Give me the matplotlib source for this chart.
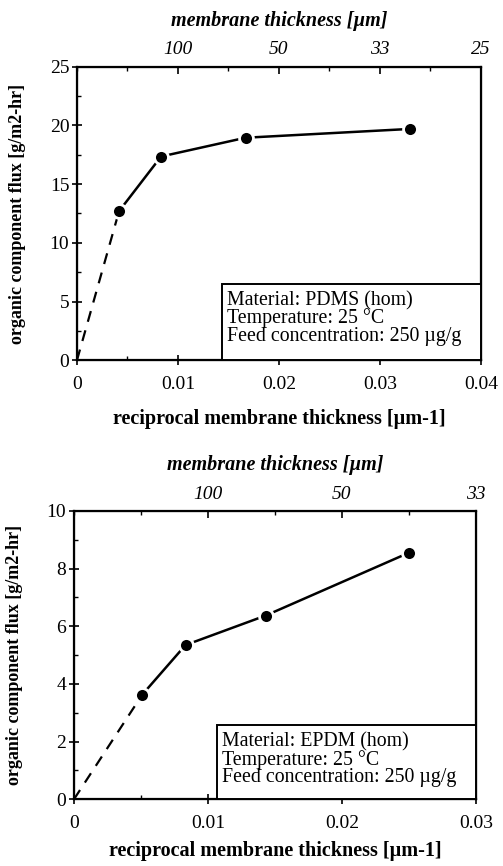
import matplotlib
matplotlib.use("Agg")
import matplotlib.pyplot as plt
import matplotlib.transforms as mtransforms
from matplotlib.patches import Rectangle
from matplotlib.ticker import MultipleLocator, FixedLocator

# PDMS (top panel)
pdms_x = [0.00417, 0.00833, 0.0167, 0.0330]
pdms_y = [12.7, 17.35, 18.95, 19.7]
# EPDM (bottom panel)
epdm_x = [0.0051, 0.00833, 0.0143, 0.0250]
epdm_y = [3.63, 5.35, 6.37, 8.55]

pdms_top_pos = [0.01, 0.02, 0.03, 0.04]
pdms_top_lab = ["100", "50", "33", "25"]
epdm_top_pos = [0.01, 0.02, 0.03]
epdm_top_lab = ["100", "50", "33"]

pdms_info = "Material: PDMS (hom)\nTemperature: 25 \u00b0C\nFeed concentration: 250 \u00b5g/g"
epdm_info = "Material: EPDM (hom)\nTemperature: 25 \u00b0C\nFeed concentration: 250 \u00b5g/g"

plt.rcParams["font.family"] = ["Liberation Serif", "DejaVu Serif"]

fig = plt.figure(figsize=(5.03, 8.66), dpi=100)


def panel(rect, xs, ys, xmax, ymax, ymaj, ymin, xticks_top, xlabels_top, info, box_x, box_top,
          xlabelpad=11):
    ax = fig.add_axes(rect)
    ax.set_xlim(0, xmax)
    ax.set_ylim(0, ymax)
    # dashed extrapolation to the origin
    ax.plot([0, xs[0]], [0, ys[0]], color="black", lw=1.6, ls=(0, (5, 4)), clip_on=False)
    ax.plot(xs, ys, color="black", lw=1.8)
    ax.plot(xs, ys, ls="none", marker="o", ms=10, mfc="black", mec="white", mew=2)

    ax.xaxis.set_major_locator(MultipleLocator(0.01))
    ax.xaxis.set_minor_locator(MultipleLocator(0.005))
    ax.yaxis.set_major_locator(MultipleLocator(ymaj))
    ax.yaxis.set_minor_locator(MultipleLocator(ymin))
    ax.xaxis.set_major_formatter(plt.FuncFormatter(lambda v, p: "0" if v == 0 else f"{v:g}"))
    ax.tick_params(which="major", direction="inout", length=7, width=1.2, labelsize=14,
                   top=False, right=False)
    ax.tick_params(axis="x", which="major", pad=8)
    ax.tick_params(axis="y", which="major", pad=2)
    ax.tick_params(which="minor", direction="in", length=3, width=1.0)
    for s in ax.spines.values():
        s.set_linewidth(1.6)

    ax.set_xlabel("reciprocal membrane thickness [\u00b5m-1]", fontsize=14.5,
                  fontweight="bold", labelpad=xlabelpad)
    ax.set_ylabel("organic component flux [g/m2-hr]", fontsize=13,
                  fontweight="bold", labelpad=17)

    top = ax.twiny()
    top.set_xlim(ax.get_xlim())
    top.xaxis.set_major_locator(FixedLocator(xticks_top))
    top.xaxis.set_minor_locator(MultipleLocator(0.005))
    top.set_xticklabels(xlabels_top, fontstyle="italic", fontsize=14)
    top.tick_params(which="major", direction="in", length=5, width=1.2, pad=6)
    top.tick_params(which="minor", direction="in", length=3, width=1.0)
    top.set_xlabel("membrane thickness [\u00b5m]", fontsize=14.5, fontweight="bold",
                   fontstyle="italic", labelpad=11)

    # info box sits on the x axis and runs to the right spine
    ax.add_patch(Rectangle((box_x, 0), xmax - box_x, box_top, fc="white", ec="black",
                           lw=1.4, zorder=3))
    shift = mtransforms.ScaledTranslation(5 / 100, -7 / 100, fig.dpi_scale_trans)
    ax.text(box_x, box_top, info, fontsize=14.3, transform=ax.transData + shift,
            va="top", ha="left", linespacing=0.88, zorder=4)
    return ax


panel([0.153, 0.584, 0.803, 0.339], pdms_x, pdms_y, 0.04, 25, 5, 2.5,
      pdms_top_pos, pdms_top_lab, pdms_info, 0.01436, 6.5)
panel([0.147, 0.077, 0.799, 0.333], epdm_x, epdm_y, 0.03, 10, 2, 1,
      epdm_top_pos, epdm_top_lab, epdm_info, 0.0107, 2.57, xlabelpad=6)

fig.savefig("out.png", dpi=100)
